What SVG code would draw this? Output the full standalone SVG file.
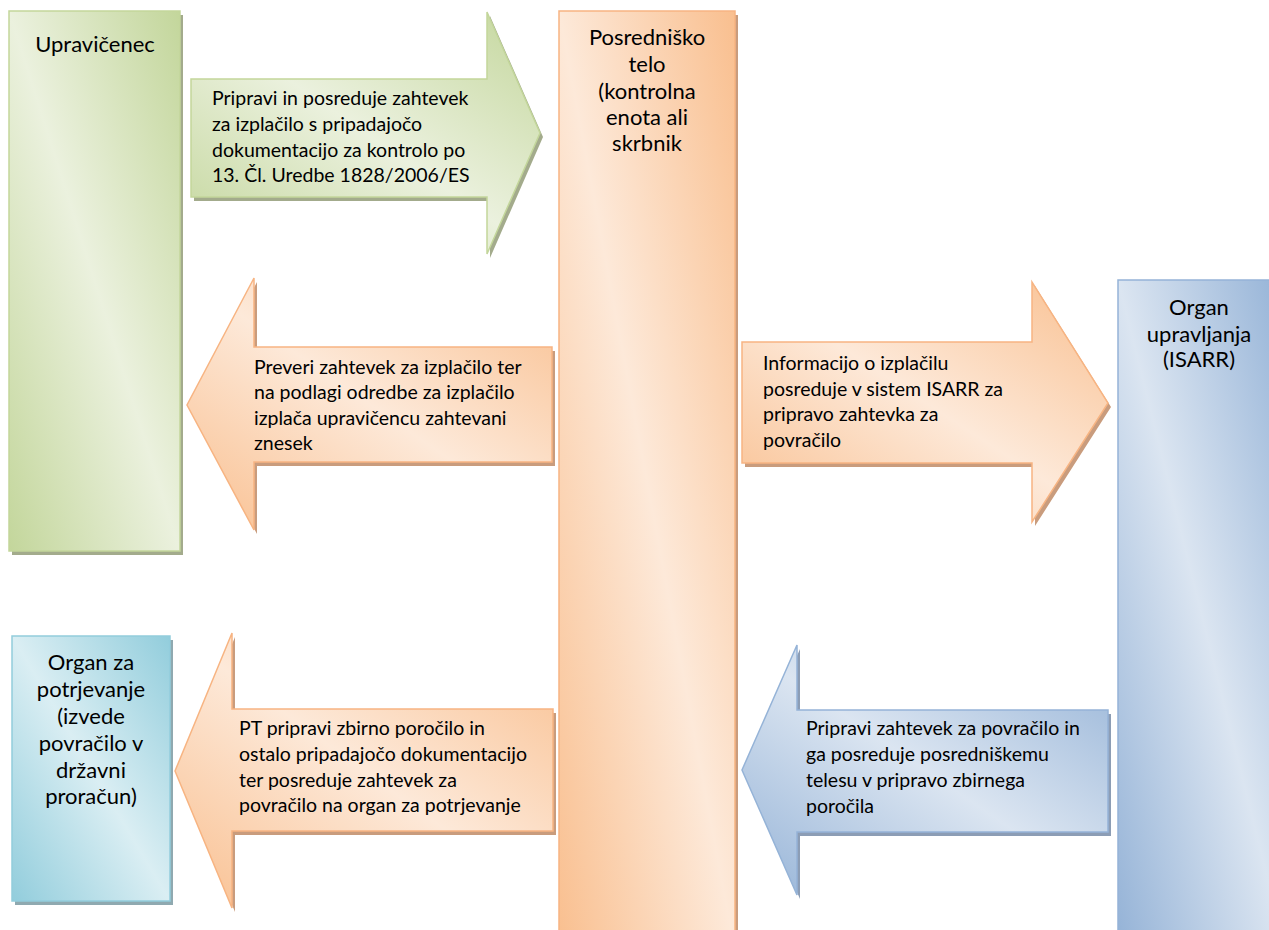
<svg xmlns="http://www.w3.org/2000/svg" width="1269" height="930" viewBox="0 0 1269 930">
  <defs>
    <!-- diagonal three-stop fills: dark corners top-right / bottom-left, pale band along the main diagonal -->
    <linearGradient id="gGreen" x1="1" y1="0" x2="0" y2="1">
      <stop offset="0" stop-color="#c3d69b"/>
      <stop offset="0.5" stop-color="#ebf1de"/>
      <stop offset="1" stop-color="#c3d69b"/>
    </linearGradient>
    <linearGradient id="gOrange" x1="1" y1="0" x2="0" y2="1">
      <stop offset="0" stop-color="#f9bf8f"/>
      <stop offset="0.5" stop-color="#fde9d9"/>
      <stop offset="1" stop-color="#f9bf8f"/>
    </linearGradient>
    <linearGradient id="gBlue" x1="1" y1="0" x2="0" y2="1">
      <stop offset="0" stop-color="#95b3d7"/>
      <stop offset="0.5" stop-color="#dbe5f1"/>
      <stop offset="1" stop-color="#95b3d7"/>
    </linearGradient>
    <linearGradient id="gTeal" x1="1" y1="0" x2="0" y2="1">
      <stop offset="0" stop-color="#92cddc"/>
      <stop offset="0.5" stop-color="#daeef3"/>
      <stop offset="1" stop-color="#92cddc"/>
    </linearGradient>
  </defs>
  <style>
    text { font-family: Lato, "Liberation Sans", sans-serif; fill: #000; }
    .title { font-size: 22px; text-anchor: middle; }
    .label { font-size: 19.5px; }
    .green  { fill: url(#gGreen);  stroke: #c3d69b; stroke-width: 1.5; }
    .orange { fill: url(#gOrange); stroke: #f7b482; stroke-width: 1.5; }
    .blue   { fill: url(#gBlue);   stroke: #95b3d7; stroke-width: 1.5; }
    .teal   { fill: url(#gTeal);   stroke: #92cddc; stroke-width: 1.5; }
    .sh-green  { fill: #a3ab8c; }
    .sh-orange { fill: #c99c7d; }
    .sh-blue   { fill: #8c9db5; }
    .sh-teal   { fill: #8fa9b0; }
  </style>

  <rect width="1269" height="930" fill="#ffffff"/>

  <!-- Upravičenec -->
  <g id="upravicenec">
    <rect class="sh-green" x="12" y="15" width="171" height="540"/>
    <rect class="green" x="9" y="11" width="171" height="540"/>
    <text class="title" x="95" y="52">Upravičenec</text>
  </g>

  <!-- Posredniško telo -->
  <g id="posredovalno-telo">
    <rect class="sh-orange" x="562" y="15" width="176" height="940"/>
    <rect class="orange" x="559" y="11" width="176" height="940"/>
    <text class="title" x="647" y="45">Posredniško</text>
    <text class="title" x="647" y="72">telo</text>
    <text class="title" x="647" y="99">(kontrolna</text>
    <text class="title" x="647" y="125">enota ali</text>
    <text class="title" x="647" y="151">skrbnik</text>
  </g>

  <!-- Organ upravljanja -->
  <g id="organ-upravljanja">
    <rect class="sh-blue" x="1121" y="284" width="165" height="660"/>
    <rect class="blue" x="1118" y="280" width="165" height="660"/>
    <text class="title" x="1199" y="315">Organ</text>
    <text class="title" x="1199" y="342">upravljanja</text>
    <text class="title" x="1199" y="367">(ISARR)</text>
  </g>

  <!-- Organ za potrjevanje -->
  <g id="organ-potrjevanje">
    <rect class="sh-teal" x="15" y="640" width="158" height="265"/>
    <rect class="teal" x="12" y="636" width="158" height="265"/>
    <text class="title" x="91" y="670">Organ za</text>
    <text class="title" x="91" y="697">potrjevanje</text>
    <text class="title" x="91" y="724">(izvede</text>
    <text class="title" x="91" y="751">povračilo v</text>
    <text class="title" x="91" y="778">državni</text>
    <text class="title" x="91" y="804">proračun)</text>
  </g>

  <!-- block arrows between the bodies -->
  <g id="connectors">
    <g id="arrow-zahtevek">
      <path class="sh-green" transform="translate(3,4)" d="M191,79 H487 V12 L540,133 L487,254 V197 H191 Z"/>
      <path class="green" d="M191,79 H487 V12 L540,133 L487,254 V197 H191 Z"/>
      <text class="label" x="212" y="105">Pripravi in posreduje zahtevek</text>
      <text class="label" x="212" y="131">za izplačilo s pripadajočo</text>
      <text class="label" x="212" y="157">dokumentacijo za kontrolo po</text>
      <text class="label" x="212" y="182">13. Čl. Uredbe 1828/2006/ES</text>
    </g>
    <g id="arrow-izplacilo">
      <path class="sh-orange" transform="translate(3,4)" d="M552,347 H254 V278 L187,405 L254,530 V462 H552 Z"/>
      <path class="orange" d="M552,347 H254 V278 L187,405 L254,530 V462 H552 Z"/>
      <text class="label" x="254" y="374">Preveri zahtevek za izplačilo ter</text>
      <text class="label" x="254" y="399">na podlagi odredbe za izplačilo</text>
      <text class="label" x="254" y="425">izplača upravičencu zahtevani</text>
      <text class="label" x="254" y="450">znesek</text>
    </g>
    <g id="arrow-isarr">
      <path class="sh-orange" transform="translate(3,4)" d="M742,342 H1032 V282 L1108,403 L1032,522 V463 H742 Z"/>
      <path class="orange" d="M742,342 H1032 V282 L1108,403 L1032,522 V463 H742 Z"/>
      <text class="label" x="763" y="370">Informacijo o izplačilu</text>
      <text class="label" x="763" y="396">posreduje v sistem ISARR za</text>
      <text class="label" x="763" y="421">pripravo zahtevka za</text>
      <text class="label" x="763" y="447">povračilo</text>
    </g>
    <g id="arrow-povracilo-pt">
      <path class="sh-blue" transform="translate(3,4)" d="M1108,710 H797 V645 L742,770 L797,895 V832 H1108 Z"/>
      <path class="blue" d="M1108,710 H797 V645 L742,770 L797,895 V832 H1108 Z"/>
      <text class="label" x="806" y="735">Pripravi zahtevek za povračilo in</text>
      <text class="label" x="806" y="761">ga posreduje posredniškemu</text>
      <text class="label" x="806" y="787">telesu v pripravo zbirnega</text>
      <text class="label" x="806" y="813">poročila</text>
    </g>
    <g id="arrow-zbirno-porocilo">
      <path class="sh-orange" transform="translate(3,4)" d="M553,709 H232 V633 L175,771 L232,908 V831 H553 Z"/>
      <path class="orange" d="M553,709 H232 V633 L175,771 L232,908 V831 H553 Z"/>
      <text class="label" x="239" y="735">PT pripravi zbirno poročilo in</text>
      <text class="label" x="239" y="761">ostalo pripadajočo dokumentacijo</text>
      <text class="label" x="239" y="787">ter posreduje zahtevek za</text>
      <text class="label" x="239" y="812">povračilo na organ za potrjevanje</text>
    </g>
  </g>
</svg>
